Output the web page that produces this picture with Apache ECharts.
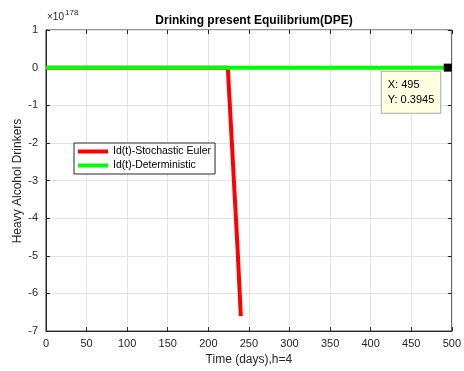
<!DOCTYPE html>
<html><head><meta charset="utf-8">
<script src="https://cdn.jsdelivr.net/npm/echarts@6/dist/echarts.min.js"></script>
<style>html,body{margin:0;padding:0;background:#fff;}#c{width:464px;height:371px;}</style>
</head><body><div id="c"></div>
<script>
// values in units of 1e178
const stochT = [0, 100, 200, 224, 226, 228, 230, 232, 234, 236, 238, 240];
const stochY = [0, 0, 0, 0, -0.8, -1.6, -2.4, -3.2, -4.0, -4.8, -5.7, -6.6];
const detT = [0, 100, 200, 300, 400, 495];
const detY = [0, 0, 0, 0, 0, 0.3945e-178];
const tipPoint = [495, 0.3945e-178];
const xTicks = [0, 50, 100, 150, 200, 250, 300, 350, 400, 450, 500];
const yTicks = [1, 0, -1, -2, -3, -4, -5, -6, -7];

const chart = echarts.init(document.getElementById('c'));
const font = 'Liberation Sans, Arial, sans-serif';
const lab = {color:'#262626', fontSize:11, fontFamily:font};
chart.setOption({
  animation:false,
  backgroundColor:'#fff',
  title:{text:'Drinking present Equilibrium(DPE)', left:249, top:10, textAlign:'center',
    textStyle:{fontSize:12, fontWeight:'bold', color:'#000', fontFamily:font}},
  grid:{left:46, right:11, top:30, bottom:39, show:true, borderColor:'#262626', borderWidth:1},
  legend:{left:74, top:143, orient:'vertical', itemWidth:30, itemHeight:4, itemGap:3,
    padding:[3,4,3,4], borderColor:'#262626', borderWidth:1, backgroundColor:'#fff',
    textStyle:{fontSize:10.5, color:'#000', fontFamily:font}, icon:'rect',
    data:['Id(t)-Stochastic Euler','Id(t)-Deterministic']},
  xAxis:[{type:'value', min:0, max:500, interval:50,
    name:'Time (days),h=4', nameLocation:'middle', nameGap:22,
    nameTextStyle:{fontSize:12, color:'#262626', fontFamily:font},
    axisLabel:{...lab, margin:7, formatter:v=>String(v)},
    axisLine:{show:true, onZero:false, lineStyle:{color:'#262626'}},
    axisTick:{inside:true, length:4, lineStyle:{color:'#262626'}},
    splitLine:{show:true, lineStyle:{color:'#e3e3e3'}}},
   {type:'value', min:0, max:500, interval:50, position:'top', axisLabel:{show:false},
    axisLine:{show:false, onZero:false}, axisTick:{inside:true, length:4, lineStyle:{color:'#262626'}}, splitLine:{show:false}}],
  yAxis:[{type:'value', min:-7, max:1, interval:1,
    axisLabel:{...lab, margin:8, formatter:v=>String(v)},
    axisLine:{show:true, onZero:false, lineStyle:{color:'#262626'}},
    axisTick:{inside:true, length:4, lineStyle:{color:'#262626'}},
    splitLine:{show:true, lineStyle:{color:'#e3e3e3'}}},
   {type:'value', min:-7, max:1, interval:1, position:'right', axisLabel:{show:false},
    axisLine:{show:false, onZero:false}, axisTick:{inside:true, length:4, lineStyle:{color:'#262626'}}, splitLine:{show:false}}],
  graphic:[{type:'text', left:47, top:12, style:{text:'×10', fontSize:10, fill:'#262626', fontFamily:font}},
           {type:'text', left:65, top:9, style:{text:'178', fontSize:8, fill:'#262626', fontFamily:font}},
           {type:'text', x:18, y:181, rotation:Math.PI/2,
            style:{text:'Heavy Alcohol Drinkers', fontSize:12, fill:'#262626', fontFamily:font,
              textAlign:'center', textVerticalAlign:'middle'}}],
  series:[
    {name:'Id(t)-Stochastic Euler', type:'line', data:stochT.map((t,i)=>[t,stochY[i]]),
     showSymbol:false, lineStyle:{color:'#ff0000', width:4}, itemStyle:{color:'#ff0000'}},
    {name:'Id(t)-Deterministic', type:'line', data:detT.map((t,i)=>[t,detY[i]]),
     showSymbol:false, lineStyle:{color:'#00ff00', width:4}, itemStyle:{color:'#00ff00'},
     markPoint:{symbol:'rect', symbolSize:8, itemStyle:{color:'#000'},
       label:{show:true, position:[-62,8], formatter:'X: '+tipPoint[0]+'\nY: '+(tipPoint[1]*1e178).toFixed(4),
         backgroundColor:'#ffffe1', borderColor:'#aaaaaa', borderWidth:1, padding:[6,6,5,6],
         color:'#000', fontSize:11, lineHeight:15, fontFamily:font},
       data:[{coord:tipPoint}]}}
  ]
});
</script></body></html>
